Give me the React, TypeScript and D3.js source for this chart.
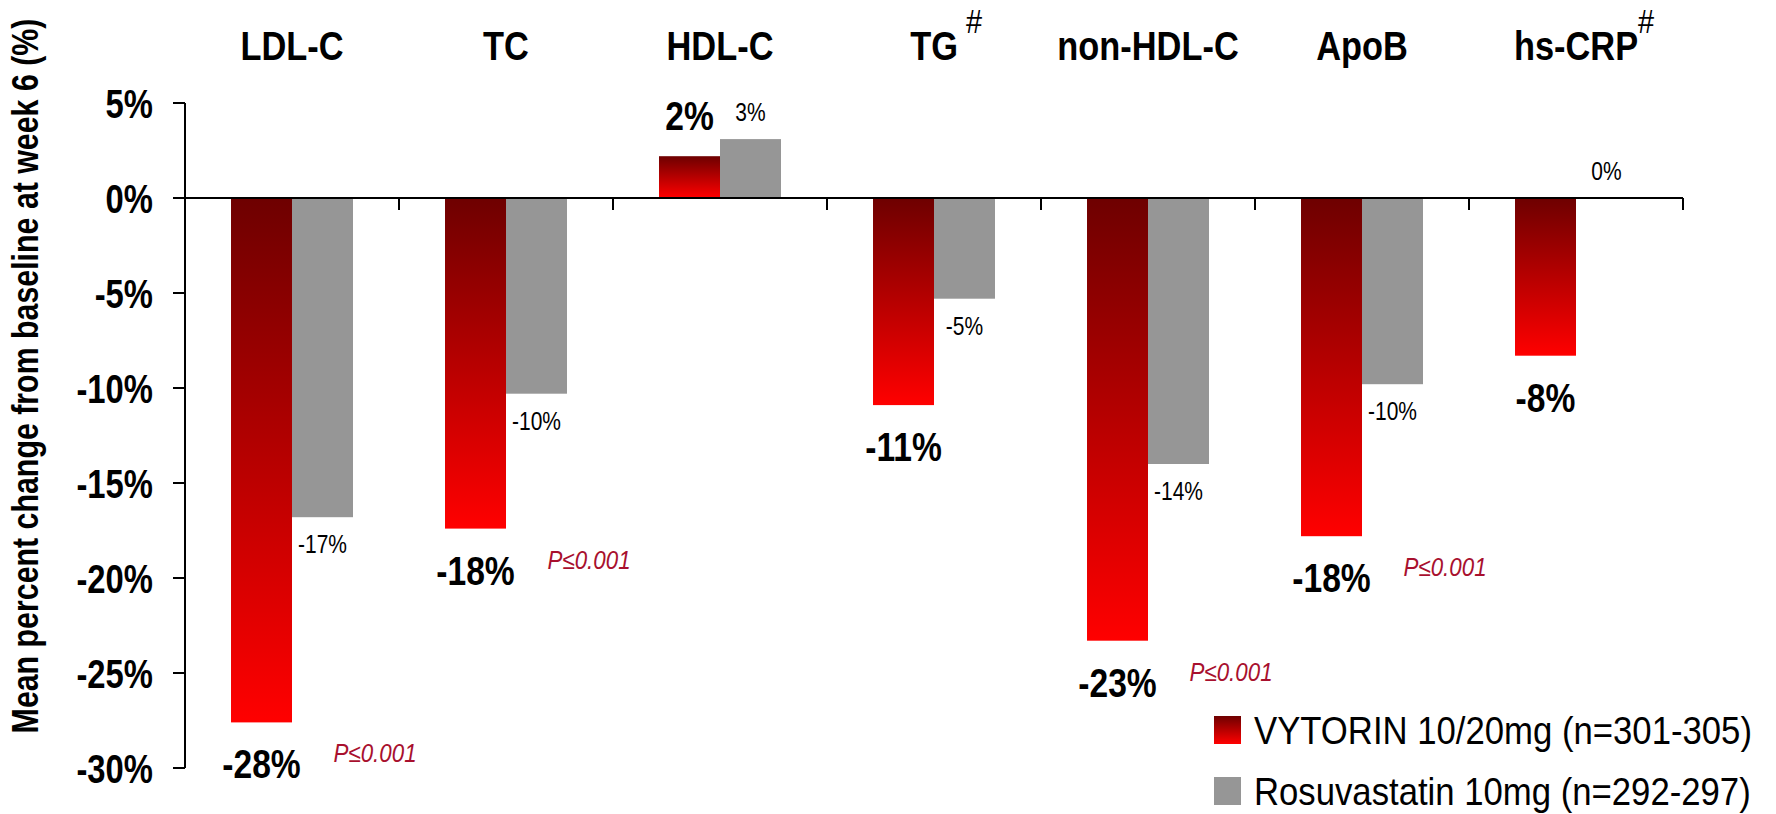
import * as d3 from "d3";
import { useEffect, useRef } from "react";

const categories = ["LDL-C", "TC", "HDL-C", "TG", "non-HDL-C", "ApoB", "hs-CRP"];
const superscripts = ["", "", "", " #", "", "", "#"];
const seriesNames = ["VYTORIN 10/20mg (n=301-305)", "Rosuvastatin 10mg (n=292-297)"];
const vytorinValues = [-27.6, -17.4, 2.2, -10.9, -23.3, -17.8, -8.3];
const rosuvaValues = [-16.8, -10.3, 3.1, -5.3, -14.0, -9.8, 0];
const vytorinLabels = ["-28%", "-18%", "2%", "-11%", "-23%", "-18%", "-8%"];
const rosuvaLabels = ["-17%", "-10%", "3%", "-5%", "-14%", "-10%", "0%"];
const pLabels = ["P≤0.001", "P≤0.001", "", "", "P≤0.001", "P≤0.001", ""];
const yTicks = [5, 0, -5, -10, -15, -20, -25, -30];
const yTitle = "Mean percent change from baseline at week 6 (%)";

const FONT = "'Liberation Sans', Arial, sans-serif";

export default function App() {
  const ref = useRef<SVGSVGElement>(null);

  useEffect(() => {
    const svg = d3.select(ref.current);
    svg.selectAll("*").remove();

    const defs = svg.append("defs");
    const grad = defs
      .append("linearGradient")
      .attr("id", "redgrad")
      .attr("x1", 0)
      .attr("y1", 0)
      .attr("x2", 0)
      .attr("y2", 1);
    grad.append("stop").attr("offset", "0%").attr("stop-color", "#6e0000");
    grad.append("stop").attr("offset", "100%").attr("stop-color", "#ff0000");

    const x = d3.scaleBand().domain(categories).range([185, 1683]);
    const bw = x.bandwidth();
    const x1 = d3.scaleBand().domain(["v", "r"]).range([bw * 0.215, bw * 0.785]);
    const y = d3.scaleLinear().domain([-30, 5]).range([768, 103]);

    // scaled text helper (narrow fonts)
    const txt = (
      g: any,
      s: string,
      tx: number,
      ty: number,
      size: number,
      sx: number,
      opts: { weight?: string; anchor?: string; color?: string; style?: string; rotate?: boolean } = {}
    ) =>
      g
        .append("text")
        .attr(
          "transform",
          `translate(${tx},${ty})${opts.rotate ? " rotate(-90)" : ""} scale(${sx},1)`
        )
        .attr("font-family", FONT)
        .attr("font-size", size)
        .attr("font-weight", opts.weight || "normal")
        .attr("font-style", opts.style || "normal")
        .attr("text-anchor", opts.anchor || "start")
        .attr("fill", opts.color || "#000")
        .text(s);

    // bars
    const g = svg.append("g");
    categories.forEach((c, i) => {
      const v = vytorinValues[i];
      const r = rosuvaValues[i];
      const xv = x(c)! + x1("v")!;
      const xr = x(c)! + x1("r")!;
      g.append("rect")
        .attr("x", xv)
        .attr("y", y(Math.max(0, v)))
        .attr("width", x1.bandwidth())
        .attr("height", Math.abs(y(v) - y(0)))
        .attr("fill", "url(#redgrad)");
      g.append("rect")
        .attr("x", xr)
        .attr("y", y(Math.max(0, r)))
        .attr("width", x1.bandwidth())
        .attr("height", Math.abs(y(r) - y(0)))
        .attr("fill", "#969696");

      const cv = xv + x1.bandwidth() / 2;
      const cr = xr + x1.bandwidth() / 2;
      const lv = v < 0 ? y(v) + 56 : y(v) - 26;
      txt(g, vytorinLabels[i], cv, lv, 41, 0.82, { weight: "bold", anchor: "middle" });
      const lr = r < 0 ? y(r) + 36 : y(r) - 18;
      txt(g, rosuvaLabels[i], cr, lr, 25, 0.84, { anchor: "middle" });
      if (pLabels[i]) {
        txt(g, pLabels[i], cv + 72, lv - 16, 26, 0.86, { style: "italic", color: "#a8102e" });
      }

      // category title
      const cx = x(c)! + bw / 2;
      const t = txt(g, c, cx, 60, 40, 0.86, { weight: "bold", anchor: "middle" });
      if (superscripts[i]) {
        const w = (t.node() as SVGTextElement).getBBox().width * 0.86;
        const gap = superscripts[i].startsWith(" ") ? 8 : 0;
        txt(g, "#", cx + w / 2 + gap, 33, 34, 0.85, {});
      }
    });

    // axes
    const ax = svg.append("g").attr("stroke", "#000").attr("stroke-width", 2);
    ax.append("line").attr("x1", 185).attr("x2", 185).attr("y1", y(5)).attr("y2", y(-30));
    ax.append("line").attr("x1", 173).attr("x2", 1683).attr("y1", y(0)).attr("y2", y(0));
    yTicks.forEach((t) => {
      ax.append("line").attr("x1", 173).attr("x2", 185).attr("y1", y(t)).attr("y2", y(t));
    });
    categories.forEach((c) => {
      const xt = x(c)! + bw;
      ax.append("line").attr("x1", xt).attr("x2", xt).attr("y1", y(0)).attr("y2", y(0) + 12);
    });

    yTicks.forEach((t) => {
      txt(svg, `${t}%`, 153, y(t) + 14.5, 40, 0.82, { weight: "bold", anchor: "end" });
    });

    txt(svg, yTitle, 38, 376, 37, 0.82, { weight: "bold", anchor: "middle", rotate: true });

    // legend
    const leg = svg.append("g");
    const legY = [716, 777];
    seriesNames.forEach((s, i) => {
      leg.append("rect")
        .attr("x", 1214)
        .attr("y", legY[i])
        .attr("width", 27)
        .attr("height", 28)
        .attr("fill", i === 0 ? "url(#redgrad)" : "#969696");
      txt(leg, s, 1254, legY[i] + 28, 39, 0.89, {});
    });
  }, []);

  return (
    <svg
      ref={ref}
      width={1776}
      height={814}
      style={{ position: "absolute", left: 0, top: 0, background: "#fff" }}
    />
  );
}
